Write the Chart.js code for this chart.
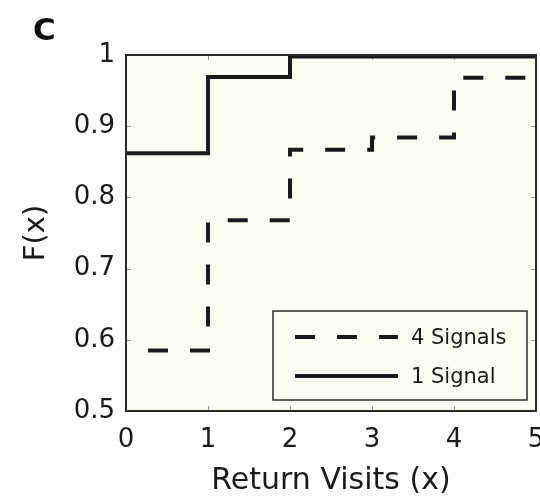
<!DOCTYPE html>
<html>
<head>
<meta charset="utf-8">
<script src="https://cdn.jsdelivr.net/npm/chart.js@4/dist/chart.umd.min.js"></script>
<style>
  html, body { margin: 0; padding: 0; background: #fff; overflow: hidden; }
  #wrap { position: relative; width: 540px; height: 501px; }
</style>
</head>
<body>
<div id="wrap"><canvas id="cdf"></canvas></div>
<script>
// Données (fonction de répartition empirique)
const visits = [0, 1, 2, 3, 4, 5];
const fourSignals = [0.585, 0.768, 0.867, 0.884, 0.968, 0.968];
const oneSignal = [0.862, 0.969, 0.998, 0.998, 0.998, 0.998];
const seriesLabels = ['4 Signals', '1 Signal'];
const xTicks = [0, 1, 2, 3, 4, 5];
const yTicks = [0.5, 0.6, 0.7, 0.8, 0.9, 1];

const FONT = '"DejaVu Sans", "Liberation Sans", Arial, sans-serif';
const INK = '#1a1a1a';
const PANEL = '#fcfcf5';

const toPts = ys => visits.map((x, i) => ({ x, y: ys[i] }));

// ─── Fond, cadre, graduations internes, légende, lettre du panneau ─────────
const matlabBox = {
  id: 'matlabBox',
  beforeDatasetsDraw(chart) {
    const { ctx, chartArea: a } = chart;
    ctx.save();
    ctx.fillStyle = PANEL;
    ctx.fillRect(a.left, a.top, a.right - a.left, a.bottom - a.top);
    // petites graduations vers l'intérieur
    ctx.strokeStyle = '#9a9a9a';
    ctx.lineWidth = 1;
    const xs = chart.scales.x, ys = chart.scales.y;
    ctx.beginPath();
    xTicks.forEach(v => {
      const px = Math.round(xs.getPixelForValue(v)) + 0.5;
      ctx.moveTo(px, a.bottom); ctx.lineTo(px, a.bottom - 5);
      ctx.moveTo(px, a.top); ctx.lineTo(px, a.top + 5);
    });
    yTicks.forEach(v => {
      const py = Math.round(ys.getPixelForValue(v)) + 0.5;
      ctx.moveTo(a.left, py); ctx.lineTo(a.left + 5, py);
      ctx.moveTo(a.right, py); ctx.lineTo(a.right - 5, py);
    });
    ctx.stroke();
    ctx.restore();
  },
  afterDraw(chart) {
    const { ctx, chartArea: a } = chart;
    ctx.save();
    ctx.strokeStyle = '#2a2a2a';
    ctx.lineWidth = 2;
    ctx.strokeRect(a.left, a.top, a.right - a.left, a.bottom - a.top);

    // légende dans le coin inférieur droit
    const lx = 273, ly = 311, lw = 254, lh = 89;
    ctx.fillStyle = PANEL;
    ctx.fillRect(lx, ly, lw, lh);
    ctx.lineWidth = 1.5;
    ctx.strokeStyle = '#2a2a2a';
    ctx.strokeRect(lx, ly, lw, lh);
    chart.data.datasets.forEach((ds, i) => {
      const y = ly + 26 + i * 39;
      ctx.beginPath();
      ctx.setLineDash(ds.borderDash || []);
      ctx.lineWidth = ds.borderWidth;
      ctx.strokeStyle = ds.borderColor;
      ctx.moveTo(295, y);
      ctx.lineTo(398, y);
      ctx.stroke();
      ctx.setLineDash([]);
      ctx.fillStyle = INK;
      ctx.font = '21px ' + FONT;
      ctx.textBaseline = 'middle';
      ctx.fillText(ds.label, 411, y + 2);
    });

    // lettre du panneau
    ctx.fillStyle = '#111';
    ctx.font = 'bold 31px ' + FONT;
    ctx.textBaseline = 'alphabetic';
    ctx.fillText('C', 33, 40);
    ctx.restore();
  },
};

new Chart(document.getElementById('cdf'), {
  type: 'line',
  data: {
    datasets: [
      {
        label: seriesLabels[0],
        data: toPts(fourSignals),
        borderColor: INK,
        borderWidth: 4,
        borderDash: [20, 22],
        borderDashOffset: 20,
        borderCapStyle: 'butt',
        stepped: 'before',
        pointRadius: 0,
        fill: false,
      },
      {
        label: seriesLabels[1],
        data: toPts(oneSignal),
        borderColor: INK,
        borderWidth: 4,
        stepped: 'before',
        pointRadius: 0,
        fill: false,
      },
    ],
  },
  plugins: [matlabBox],
  options: {
    responsive: true,
    maintainAspectRatio: false,
    animation: false,
    layout: { padding: { top: 55, left: 0, right: 4, bottom: 0 } },
    plugins: {
      legend: { display: false },
      tooltip: { enabled: false },
    },
    scales: {
      x: {
        type: 'linear',
        min: 0,
        max: 5,
        // le « 5 » déborde à droite comme sur l'original
        afterFit: s => { s.height = 90; s.paddingRight = 0; s.paddingLeft = 0; },
        afterBuildTicks: s => { s.ticks = xTicks.map(value => ({ value })); },
        ticks: { color: INK, font: { family: FONT, size: 26 }, padding: 14, maxRotation: 0 },
        grid: { display: false, drawTicks: false },
        border: { display: false },
        title: {
          display: true,
          text: 'Return Visits (x)',
          color: INK,
          font: { family: FONT, size: 30 },
          padding: { top: 0, bottom: 2 },
        },
      },
      y: {
        min: 0.5,
        max: 1,
        afterFit: s => { s.width = 126; },
        afterBuildTicks: s => { s.ticks = yTicks.map(value => ({ value })); },
        ticks: {
          color: INK,
          font: { family: FONT, size: 26 },
          padding: 11,
          callback: v => String(Math.round(v * 10) / 10),
        },
        grid: { display: false, drawTicks: false },
        border: { display: false },
        title: {
          display: true,
          text: 'F(x)',
          color: INK,
          font: { family: FONT, size: 29 },
          padding: { top: 19, bottom: 0 },
        },
      },
    },
  },
});
</script>
</body>
</html>
